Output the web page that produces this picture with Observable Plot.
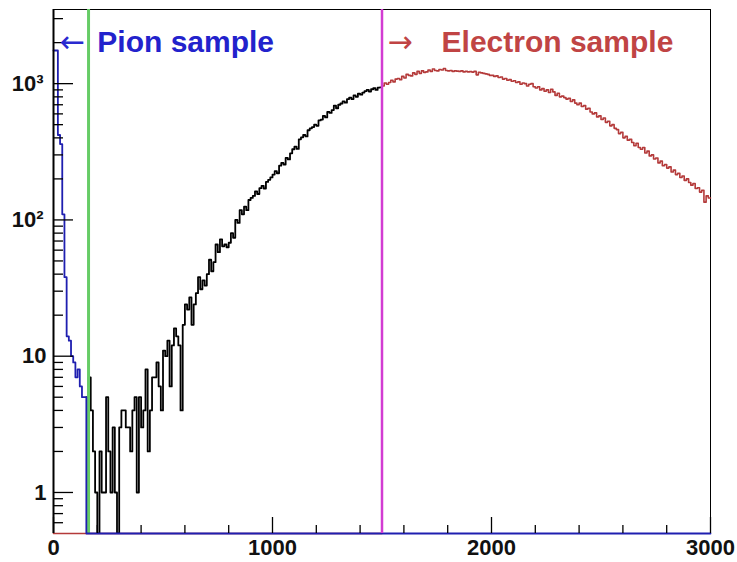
<!DOCTYPE html>
<html>
<head>
<meta charset="utf-8">
<script src="https://cdn.jsdelivr.net/npm/d3@7"></script>
<script src="https://cdn.jsdelivr.net/npm/@observablehq/plot@0.6"></script>
<style>
  html, body { margin: 0; padding: 0; background: #fff; }
  #chart svg { display: block; }
</style>
</head>
<body>
<div id="chart"></div>
<script>
// ---- data ----
const binWidth = 10;
const xDomain = [0, 3000];
const yDomain = [0.5, 3500];

// pion sample (blue), bins starting at 0
const pionStart = 0;
const pionCounts = [1750, 1750, 420, 360, 110, 38, 14, 13, 10, 9, 7, 8, 6, 5, 5];

// full sample between cuts (black), bins starting at 150
const allStart = 150;
const allCounts = [
  5, 7, 4, 2, 1, 0, 2, 1, 1, 5,
  2, 1, 3, 1, 0, 3, 4, 4, 3, 3,
  2, 4, 5, 1, 5, 3, 4, 8, 2, 4,
  7, 7, 9, 6, 4, 11, 10, 13, 6, 12,
  16, 14, 12, 4, 17, 24, 22, 27, 17, 24,
  29, 38, 31, 36, 33, 40, 51, 42, 49, 66,
  58, 72, 64, 66, 63, 68, 80, 74, 100, 95,
  118, 110, 125, 118, 140, 145, 150, 162, 155, 171,
  178, 170, 190, 197, 205, 215, 228, 220, 250, 262,
  255, 285, 278, 308, 330, 345, 332, 390, 404, 420,
  410, 455, 470, 480, 500, 490, 537, 545, 580, 565,
  620, 610, 640, 690, 660, 700, 715, 740, 725, 770,
  790, 770, 820, 800, 845, 830, 860, 880, 900, 875,
  910, 925, 900, 935, 940
];

// electron sample (red), bins starting at 1500
const electronStart = 1500;
const electronCounts = [
  960, 1010, 990, 1020, 1060, 1030, 1080, 1090, 1070, 1130,
  1100, 1170, 1150, 1140, 1200, 1170, 1230, 1190, 1240, 1210,
  1220, 1260, 1230, 1280, 1250, 1240, 1270, 1260, 1290, 1250,
  1240, 1250, 1230, 1240, 1235, 1230, 1240, 1220, 1230, 1220,
  1225, 1215, 1230, 1160, 1210, 1200, 1190, 1180, 1170, 1150,
  1150, 1130, 1140, 1110, 1120, 1080, 1090, 1060, 1070, 1040,
  1050, 1020, 1030, 990, 1010, 1000, 960, 990, 1000, 950,
  930, 950, 900, 920, 880, 900, 860, 910, 870, 820,
  850, 800, 810, 790, 770, 780, 740, 760, 720, 700,
  720, 680, 690, 650, 660, 620, 600, 610, 570, 580,
  545, 560, 520, 530, 490, 500, 470, 460, 430, 440,
  400, 410, 385, 390, 370, 350, 365, 340, 330, 340,
  310, 320, 295, 300, 280, 285, 262, 270, 250, 255,
  240, 245, 225, 232, 215, 220, 205, 210, 195, 200,
  188, 180, 185, 170, 172, 160, 165, 135, 150, 145
];

const cutPion = 160;
const cutElectron = 1500;

const yMajor = [1, 10, 100, 1000];
const yMinor = [0.6, 0.7, 0.8, 0.9, 2, 3, 4, 5, 6, 7, 8, 9,
                20, 30, 40, 50, 60, 70, 80, 90,
                200, 300, 400, 500, 600, 700, 800, 900, 2000, 3000];
const yPlainLabels = [1, 10];
const yPowerLabels = [100, 1000];
const powerText = {100: "10²", 1000: "10³"};
const xMajor = [0, 1000, 2000, 3000];
const xMinor = [200, 400, 600, 800, 1200, 1400, 1600, 1800, 2200, 2400, 2600, 2800];

const labelPion = ["←", "Pion sample"];
const labelElectron = ["→", "Electron sample"];

// ---- build step outlines ----
const floor = yDomain[0];
function steps(start, counts, opts = {}) {
  const pts = [];
  if (opts.fromZero) { pts.push({x: xDomain[0], y: floor}); pts.push({x: start, y: floor}); }
  counts.forEach((c, i) => {
    const v = Math.max(c, floor);
    pts.push({x: start + i * binWidth, y: v});
    pts.push({x: start + (i + 1) * binWidth, y: v});
  });
  if (opts.toEnd) {
    const end = start + counts.length * binWidth;
    pts.push({x: end, y: floor});
    pts.push({x: xDomain[1], y: floor});
  }
  return pts;
}
const pionPts = steps(pionStart, pionCounts, {toEnd: true});
const allPts = steps(allStart, allCounts);
const electronPts = steps(electronStart, electronCounts, {fromZero: true});

const W = 737, H = 562;
const mL = 53, mR = 27, mT = 9, mB = 29;
const innerW = W - mL - mR, innerH = H - mT - mB;

const font = "Liberation Sans, Arial, Helvetica, sans-serif";
const blueLine = "#1f1fb0", redLine = "#b43a3a";

const chart = Plot.plot({
  width: W, height: H,
  marginLeft: mL, marginRight: mR, marginTop: mT, marginBottom: mB,
  style: {fontFamily: font, background: "#fff"},
  x: {domain: xDomain, axis: null, label: null},
  y: {type: "log", domain: yDomain, axis: null, label: null},
  marks: [
    Plot.frame({stroke: "#000", strokeWidth: 1}),
    Plot.line(electronPts, {x: "x", y: "y", stroke: redLine, strokeWidth: 1.6}),
    Plot.line(allPts, {x: "x", y: "y", stroke: "#000", strokeWidth: 1.8, clip: true}),
    Plot.ruleX([cutPion], {stroke: "#66cc66", strokeWidth: 3}),
    Plot.line(pionPts, {x: "x", y: "y", stroke: blueLine, strokeWidth: 1.8}),
    Plot.ruleX([cutElectron], {stroke: "#d23cd2", strokeWidth: 2.5}),
    Plot.ruleX([xDomain[0]], {stroke: "#000", strokeWidth: 2}),
    // ticks inside frame
    Plot.tickY(yMajor, {y: d => d, stroke: "#000", strokeWidth: 1.3, insetRight: innerW - 20}),
    Plot.tickY(yMinor, {y: d => d, stroke: "#000", strokeWidth: 1.3, insetRight: innerW - 10}),
    Plot.tickX(xMajor, {x: d => d, stroke: "#000", strokeWidth: 1.3, insetTop: innerH - 16}),
    Plot.tickX(xMinor, {x: d => d, stroke: "#000", strokeWidth: 1.3, insetTop: innerH - 8}),
    // axis labels
    Plot.axisY({ticks: yPlainLabels, tickSize: 0, tickPadding: 7, tickFormat: d => String(d),
      label: null, fontSize: 22, fontWeight: "bold", fill: "#111"}),
    Plot.axisY({ticks: yPowerLabels, tickSize: 0, tickPadding: 10, tickFormat: d => powerText[d],
      label: null, fontSize: 22, fontWeight: "bold", fill: "#111"}),
    Plot.axisX({ticks: xMajor, tickSize: 0, tickPadding: 6, tickFormat: d => String(d),
      label: null, fontSize: 22, fontWeight: "bold", fill: "#111"}),
    // annotations
    Plot.text([labelPion[0]], {x: 30, y: 2000, text: d => d, textAnchor: "start",
      fontFamily: "DejaVu Sans", fontSize: 30, fill: "#2a2ad0"}),
    Plot.text([labelPion[1]], {x: 200, y: 2000, text: d => d, textAnchor: "start",
      fontSize: 30, fontWeight: "bold", fill: "#2222cc"}),
    Plot.text([labelElectron[0]], {x: 1525, y: 2000, text: d => d, textAnchor: "start",
      fontFamily: "DejaVu Sans", fontSize: 30, fill: "#c04444"}),
    Plot.text([labelElectron[1]], {x: 1772, y: 2000, text: d => d, textAnchor: "start",
      fontSize: 30, fontWeight: "bold", fill: "#c04444"})
  ]
});
document.getElementById("chart").appendChild(chart);
</script>
</body>
</html>
